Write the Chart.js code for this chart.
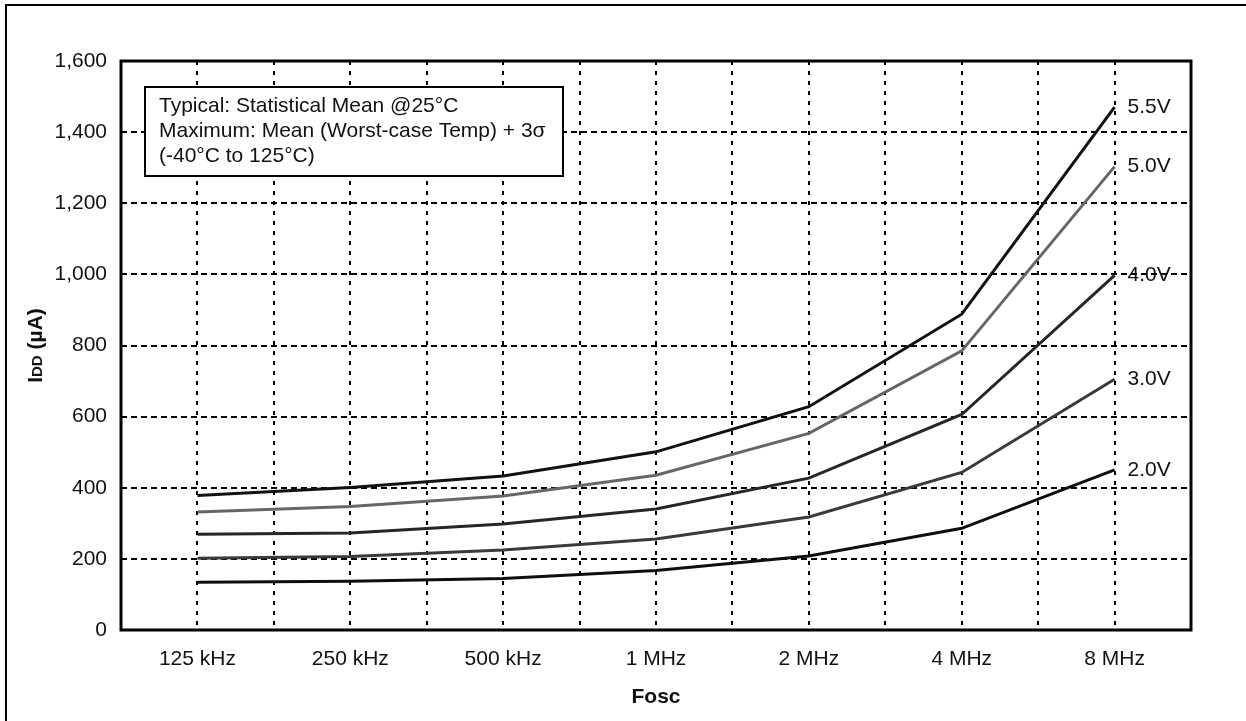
<!DOCTYPE html>
<html>
<head>
<meta charset="utf-8">
<title>IDD vs Fosc</title>
<script src="https://cdn.jsdelivr.net/npm/chart.js@4"></script>
<style>
  html, body { margin: 0; padding: 0; background: #fff; }
  canvas { display: block; }
</style>
</head>
<body>
<canvas id="chart" width="1246" height="721"></canvas>
<script>
const FONT = "'Liberation Sans', Arial, sans-serif";

const FREQ_LABELS = ['125 kHz', '250 kHz', '500 kHz', '1 MHz', '2 MHz', '4 MHz', '8 MHz'];

// IDD in uA
const IDD_5V5 = [378, 401, 433, 501, 628, 888, 1470];
const IDD_5V0 = [332, 347, 377, 435, 553, 785, 1303];
const IDD_4V0 = [269, 273, 298, 340, 427, 606, 997];
const IDD_3V0 = [202, 207, 225, 256, 318, 443, 705];
const IDD_2V0 = [134, 137, 145, 167, 208, 286, 450];

const SERIES = [
  {label: '5.5V', values: IDD_5V5, color: '#111111'},
  {label: '5.0V', values: IDD_5V0, color: '#666666'},
  {label: '4.0V', values: IDD_4V0, color: '#262626'},
  {label: '3.0V', values: IDD_3V0, color: '#3a3a3a'},
  {label: '2.0V', values: IDD_2V0, color: '#0e0e0e'},
];

const NOTE_LINES = [
  'Typical: Statistical Mean @25°C',
  'Maximum: Mean (Worst-case Temp) + 3σ',
  '(-40°C to 125°C)',
];

// frame, note box, axis titles, end-of-line labels
const decorations = {
  id: 'decorations',
  beforeDatasetsDraw(chart) {
    const {ctx, chartArea: a} = chart;
    ctx.save();
    const bx = a.left + 24, by = a.top + 26, bw = 418, bh = 89;
    ctx.fillStyle = '#fff';
    ctx.fillRect(bx, by, bw, bh);
    ctx.lineWidth = 2;
    ctx.strokeStyle = '#000';
    ctx.strokeRect(bx, by, bw, bh);
    ctx.fillStyle = '#111';
    ctx.font = `21px ${FONT}`;
    ctx.textBaseline = 'alphabetic';
    NOTE_LINES.forEach((t, i) => ctx.fillText(t, bx + 14, by + 25 + i * 25));
    ctx.restore();
  },
  afterDatasetsDraw(chart) {
    const {ctx, chartArea: a} = chart;
    ctx.save();
    ctx.fillStyle = '#111';
    ctx.font = `21px ${FONT}`;
    ctx.textBaseline = 'middle';
    ctx.textAlign = 'left';
    chart.data.datasets.forEach((ds, i) => {
      const pts = chart.getDatasetMeta(i).data;
      const last = pts[pts.length - 1];
      ctx.fillText(ds.label, last.x + 13, last.y);
    });

    // plot border
    ctx.lineWidth = 3;
    ctx.strokeStyle = '#000';
    ctx.strokeRect(a.left, a.top, a.right - a.left, a.bottom - a.top);

    // outer frame (left and top edges only are inside the picture)
    ctx.fillStyle = '#000';
    ctx.fillRect(5, 4, 2, chart.height);
    ctx.fillRect(5, 4, chart.width, 2);

    // x title
    ctx.fillStyle = '#111';
    ctx.font = `bold 21px ${FONT}`;
    ctx.textAlign = 'center';
    ctx.textBaseline = 'middle';
    ctx.fillText('Fosc', (a.left + a.right) / 2, 697);

    // y title, IDD with small DD
    ctx.translate(34, (a.top + a.bottom) / 2);
    ctx.rotate(-Math.PI / 2);
    const parts = [['I', 21], ['DD', 15], [' (µA)', 21]];
    let total = 0;
    parts.forEach(([t, s]) => { ctx.font = `bold ${s}px ${FONT}`; total += ctx.measureText(t).width; });
    let x = -total / 2;
    ctx.textAlign = 'left';
    ctx.textBaseline = 'alphabetic';
    parts.forEach(([t, s]) => {
      ctx.font = `bold ${s}px ${FONT}`;
      ctx.fillText(t, x, 7.5);
      x += ctx.measureText(t).width;
    });
    ctx.restore();
  },
};

function buildDatasets() {
  return SERIES.map(s => ({
    label: s.label,
    data: s.values.map((v, i) => ({x: i, y: v})),
    borderColor: s.color,
    backgroundColor: s.color,
    borderWidth: 3,
    pointRadius: 0,
    tension: 0,
  }));
}

new Chart(document.getElementById('chart'), {
  type: 'line',
  data: {datasets: buildDatasets()},
  options: {
    responsive: false,
    animation: false,
    devicePixelRatio: 1,
    layout: {padding: {left: 0, top: 61, right: 55, bottom: 0}},
    plugins: {legend: {display: false}, tooltip: {enabled: false}},
    scales: {
      x: {
        type: 'linear',
        min: -0.5,
        max: 6.5,
        afterFit: (scale) => { scale.height = 91; },
        border: {display: false, dash: [4, 6]},
        grid: {color: '#000', lineWidth: 2, drawTicks: false},
        ticks: {
          stepSize: 0.5,
          autoSkip: false,
          maxRotation: 0,
          padding: 17,
          color: '#111',
          font: {family: FONT, size: 21},
          callback: (v) => Number.isInteger(v) ? FREQ_LABELS[v] : '',
        },
      },
      y: {
        min: 0,
        max: 1600,
        afterFit: (scale) => { scale.width = 121; },
        border: {display: false, dash: [6, 4]},
        grid: {color: '#000', lineWidth: 2, drawTicks: false},
        ticks: {
          stepSize: 200,
          padding: 14,
          color: '#111',
          font: {family: FONT, size: 21},
          callback: (v) => v.toLocaleString('en-US'),
        },
      },
    },
  },
  plugins: [decorations],
});
</script>
</body>
</html>
